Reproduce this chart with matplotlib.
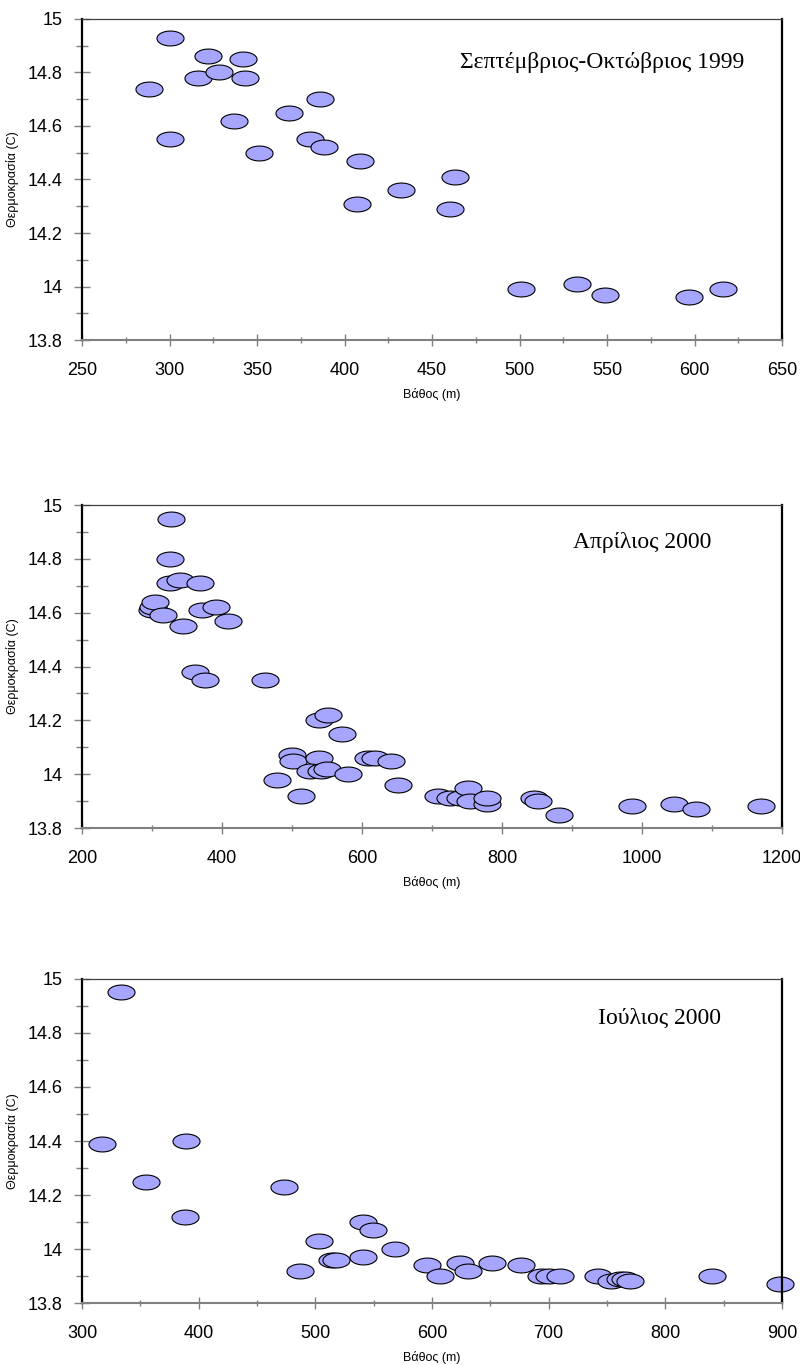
import numpy as np
import matplotlib
matplotlib.use("Agg")
import matplotlib.pyplot as plt
from matplotlib.path import Path
from matplotlib.ticker import MultipleLocator, FormatStrFormatter

plt.rcParams['font.family'] = ['Liberation Sans', 'DejaVu Sans']

# Σεπτέμβριος-Οκτώβριος 1999
depth_sep = [300, 288, 300, 322, 316, 328, 342, 343, 337, 351, 368, 386, 380, 388,
             409, 407, 432, 463, 460, 501, 533, 549, 597, 616]
temp_sep = [14.93, 14.74, 14.55, 14.86, 14.78, 14.80, 14.85, 14.78, 14.62, 14.50, 14.65, 14.70, 14.55, 14.52,
            14.47, 14.31, 14.36, 14.41, 14.29, 13.99, 14.01, 13.97, 13.96, 13.99]

# Απρίλιος 2000
depth_apr = [327, 326, 326, 340, 368, 300, 302, 304, 316, 344, 371, 391, 408,
             362, 376, 462, 538, 551, 571, 500, 502, 539, 526, 542, 550, 580,
             478, 513, 609, 619, 641, 652, 708, 726, 740, 751, 754, 778, 778,
             846, 851, 881, 986, 1045, 1077, 1170]
temp_apr = [14.95, 14.80, 14.71, 14.72, 14.71, 14.61, 14.62, 14.64, 14.59, 14.55, 14.61, 14.62, 14.57,
            14.38, 14.35, 14.35, 14.20, 14.22, 14.15, 14.07, 14.05, 14.06, 14.01, 14.01, 14.02, 14.00,
            13.98, 13.92, 14.06, 14.06, 14.05, 13.96, 13.92, 13.91, 13.91, 13.95, 13.90, 13.89, 13.91,
            13.91, 13.90, 13.85, 13.88, 13.89, 13.87, 13.88]

# Ιούλιος 2000
depth_jul = [333, 317, 389, 355, 388, 473, 487, 503, 514, 518, 541, 549, 541, 568,
             596, 607, 624, 631, 651, 676, 693, 700, 710, 742, 753, 761, 765, 770, 840, 898]
temp_jul = [14.95, 14.39, 14.40, 14.25, 14.12, 14.23, 13.92, 14.03, 13.96, 13.96, 14.10, 14.07, 13.97, 14.00,
            13.94, 13.90, 13.95, 13.92, 13.95, 13.94, 13.90, 13.90, 13.90, 13.90, 13.88, 13.89, 13.89, 13.88, 13.90, 13.87]

titles = ['Σεπτέμβριος-Οκτώβριος 1999', 'Απρίλιος 2000', 'Ιούλιος 2000']

# ellipse marker
t = np.linspace(0, 2 * np.pi, 60)
ell = Path(np.column_stack([np.cos(t), 0.55 * np.sin(t)]), closed=True)

fig = plt.figure(figsize=(8, 13.65), dpi=100)

panels = [
    (depth_sep, temp_sep, (250, 650), 50, 25, [0.1025, 0.7509, 0.875, 0.2352], (0.743, 0.863)),
    (depth_apr, temp_apr, (200, 1200), 200, 100, [0.1025, 0.3934, 0.875, 0.2366], (0.80, 0.885)),
    (depth_jul, temp_jul, (300, 900), 100, 50, [0.1025, 0.0454, 0.875, 0.2374], (0.825, 0.88)),
]

for i, (x, y, xlim, xmaj, xmin, pos, tpos) in enumerate(panels):
    ax = fig.add_axes(pos)
    ax.plot(x, y, linestyle='none', marker=ell, markersize=19.5,
            markerfacecolor='#a6a6ff', markeredgecolor='black', markeredgewidth=0.8,
            clip_on=False)
    ax.set_xlim(*xlim)
    ax.set_ylim(13.8, 15)
    ax.xaxis.set_major_locator(MultipleLocator(xmaj))
    ax.xaxis.set_minor_locator(MultipleLocator(xmin))
    ax.yaxis.set_major_locator(MultipleLocator(0.2))
    ax.yaxis.set_minor_locator(MultipleLocator(0.1))
    ax.yaxis.set_major_formatter(FormatStrFormatter('%g'))
    ax.tick_params(axis='both', which='both', direction='inout', color='#808080', width=1,
                   labelsize=13)
    ax.tick_params(axis='y', which='major', length=12, pad=8)
    ax.tick_params(axis='y', which='minor', length=9)
    ax.tick_params(axis='x', which='major', length=9, pad=11)
    ax.tick_params(axis='x', which='minor', length=5)
    ax.spines['left'].set_color('black')
    ax.spines['left'].set_linewidth(1.6)
    ax.spines['right'].set_color('black')
    ax.spines['right'].set_linewidth(1.6)
    ax.spines['top'].set_color('#404040')
    ax.spines['top'].set_linewidth(0.9)
    ax.spines['bottom'].set_color('#808080')
    ax.spines['bottom'].set_linewidth(1.5)
    ax.set_xlabel('Βάθος (m)', fontsize=9, labelpad=7)
    ax.set_ylabel('Θερμοκρασία (C)', fontsize=9)
    ax.yaxis.set_label_coords(-0.09, 0.5)
    ax.text(tpos[0], tpos[1], titles[i], transform=ax.transAxes, ha='center', va='center',
            fontsize=17, family=['Liberation Serif', 'DejaVu Serif'])

plt.savefig('out.png', dpi=100)
